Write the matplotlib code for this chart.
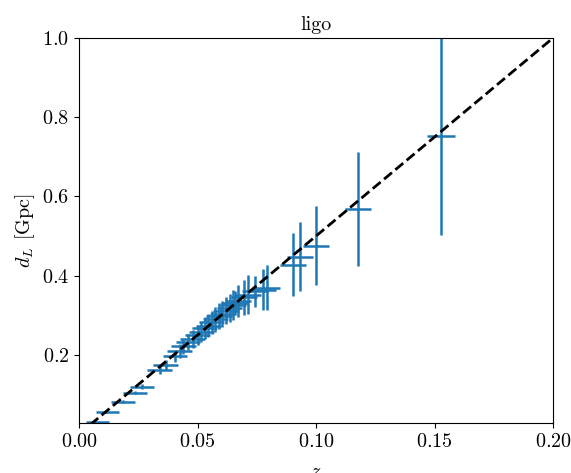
import matplotlib
matplotlib.use('Agg')
from matplotlib import pyplot as plt
import numpy as np

plt.rcParams['font.family'] = 'serif'
plt.rcParams['font.serif'] = ['cmr10']
plt.rcParams['mathtext.fontset'] = 'cm'
plt.rcParams['axes.formatter.use_mathtext'] = True
plt.rcParams['axes.unicode_minus'] = False

# redshift and luminosity distance
z = [0.0078, 0.0120, 0.0185, 0.0235, 0.0265, 0.0340, 0.0365, 0.0405,
     0.0425, 0.0440, 0.0460, 0.0480, 0.0500, 0.0515, 0.0530, 0.0545,
     0.0560, 0.0575, 0.0590, 0.0605, 0.0620, 0.0635, 0.0650, 0.0658,
     0.0671, 0.0696, 0.0713, 0.0743, 0.0776, 0.0792, 0.0901, 0.0932,
     0.1000, 0.1177, 0.1527]
dl = [0.030, 0.055, 0.082, 0.105, 0.120, 0.162, 0.175, 0.198,
      0.210, 0.222, 0.232, 0.240, 0.250, 0.258, 0.268, 0.274,
      0.282, 0.290, 0.298, 0.304, 0.312, 0.318, 0.326, 0.330,
      0.336, 0.345, 0.352, 0.360, 0.365, 0.370, 0.428, 0.448,
      0.476, 0.568, 0.752]
z_err = [0.0050, 0.0050, 0.0050, 0.0050, 0.0052, 0.0052, 0.0052, 0.0052,
         0.0052, 0.0052, 0.0052, 0.0053, 0.0053, 0.0053, 0.0053, 0.0053,
         0.0053, 0.0054, 0.0054, 0.0054, 0.0054, 0.0054, 0.0054, 0.0055,
         0.0055, 0.0055, 0.0055, 0.0055, 0.0055, 0.0055, 0.0055, 0.0056,
         0.0056, 0.0056, 0.0060]
dl_err = [0.0005, 0.0012, 0.003, 0.005, 0.006, 0.010, 0.012, 0.015,
          0.017, 0.019, 0.020, 0.022, 0.024, 0.025, 0.027, 0.028,
          0.029, 0.031, 0.032, 0.033, 0.035, 0.036, 0.038, 0.030,
          0.040, 0.045, 0.050, 0.038, 0.052, 0.057, 0.080, 0.088,
          0.100, 0.143, 0.250]

# reference line
line_z = [0.0, 0.2]
line_dl = [0.0, 1.0]

fig = plt.figure(figsize=(5.71, 4.73), dpi=100)
ax = fig.add_axes([0.1384, 0.1057, 0.8301, 0.814])

ax.errorbar(z, dl, xerr=z_err, yerr=dl_err, fmt='none', ecolor='C0',
            elinewidth=1.8, capsize=0)
ax.plot(line_z, line_dl, 'k--', lw=2.0, zorder=3)

ax.set_xlim(0.0, 0.2)
ax.set_ylim(0.028, 1.0)
ax.set_xticks([0.0, 0.05, 0.1, 0.15, 0.2])
ax.set_yticks([0.2, 0.4, 0.6, 0.8, 1.0])
ax.tick_params(labelsize=14.5)
ax.set_xlabel('$z$', fontsize=14.5, labelpad=9)
ax.set_ylabel('$d_L$ [Gpc]', fontsize=14.5)
ax.set_title('ligo', fontsize=14.5)

fig.savefig('out.png', dpi=100)
